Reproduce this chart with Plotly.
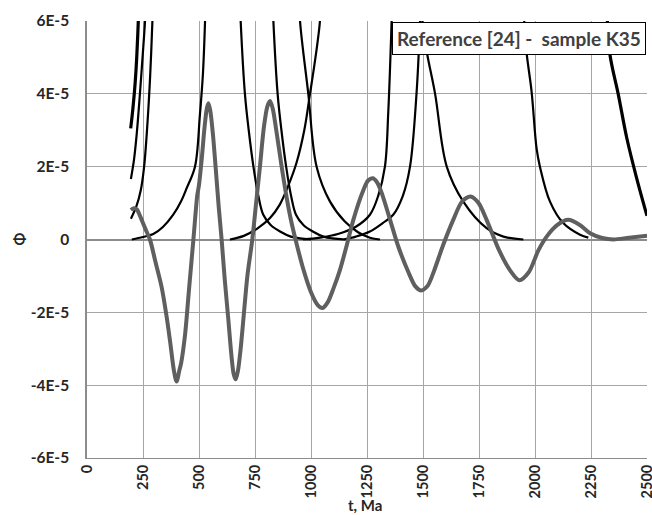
import plotly.graph_objects as go

SCALE = 1e-5

# ---- data (values in units of 1E-5) ----
phi_t = [196, 210, 222, 240, 260, 281, 305, 333, 355, 371, 388, 400, 412, 420, 438, 455, 475,
         492, 500, 512, 525, 535, 542, 550, 562, 574, 588, 601, 615, 631, 645, 655, 664, 674,
         686, 698, 716, 738, 755, 772, 790, 805, 817, 829, 845, 869, 890, 910, 935, 965, 1000,
         1030, 1052, 1075, 1100, 1129, 1160, 1189, 1230, 1255, 1276, 1297, 1320, 1353, 1390,
         1435, 1465, 1492, 1520, 1550, 1590, 1635, 1675, 1712, 1748, 1784, 1840, 1888, 1930,
         1972, 2015, 2052, 2100, 2148, 2200, 2246, 2300, 2350, 2420, 2500]
phi_v = [0.81, 0.86, 0.83, 0.6, 0.3, 0.0, -0.6, -1.3, -2.1, -2.8, -3.6, -3.9, -3.6, -3.4, -2.6,
         -1.4, 0.0, 1.2, 1.5, 2.2, 3.1, 3.6, 3.74, 3.55, 2.9, 2.0, 0.9, 0.0, -1.1, -2.2, -3.2,
         -3.7, -3.84, -3.6, -3.0, -2.2, -1.0, 0.0, 1.0, 2.0, 3.1, 3.65, 3.8, 3.6, 3.0, 2.0, 1.2,
         0.55, -0.1, -0.8, -1.45, -1.8, -1.88, -1.72, -1.35, -0.84, -0.15, 0.54, 1.3, 1.62, 1.68,
         1.55, 1.2, 0.54, -0.2, -0.9, -1.28, -1.4, -1.28, -0.85, -0.15, 0.54, 1.05, 1.18, 1.0,
         0.54, -0.3, -0.84, -1.12, -0.9, -0.3, 0.08, 0.4, 0.54, 0.4, 0.17, 0.04, 0.0, 0.05, 0.1]

c1_t = [195, 205, 215, 222, 229, 234]
c1_v = [3.05, 3.6, 4.3, 5.0, 6.0, 7.0]

c2_t = [196, 210, 222, 235, 248, 259, 266]
c2_v = [1.66, 2.2, 2.9, 3.9, 5.0, 6.0, 7.0]

c3_t = [196, 220, 240, 255, 270, 282, 292, 298]
c3_v = [0.57, 0.9, 1.35, 2.0, 3.2, 4.5, 6.0, 7.0]

c4_t = [200, 250, 296, 340, 385, 420, 445, 482, 504, 518, 527, 532]
c4_v = [0.0, 0.07, 0.15, 0.35, 0.68, 1.05, 1.41, 2.0, 3.42, 4.6, 6.0, 7.0]

cE_t = [680, 686, 705, 722, 743, 765, 787, 820, 862, 910, 951, 1000]
cE_v = [7.0, 6.0, 4.0, 3.0, 2.0, 1.2, 0.68, 0.4, 0.22, 0.08, 0.03, 0.0]

cF_t = [826, 832, 851, 868, 889, 911, 933, 966, 1008, 1056, 1097, 1150]
cF_v = [7.0, 6.0, 4.0, 3.0, 2.0, 1.2, 0.68, 0.4, 0.22, 0.08, 0.03, 0.0]

cG_t = [638, 700, 760, 817, 860, 900, 935, 970, 995, 1020, 1040, 1046]
cG_v = [0.0, 0.1, 0.3, 0.59, 0.95, 1.5, 2.1, 3.0, 3.98, 5.0, 6.0, 7.0]

cH_t = [945, 951, 988, 1025, 1085, 1150, 1210, 1263, 1308]
cH_v = [7.0, 6.0, 4.0, 2.0, 1.04, 0.5, 0.2, 0.05, 0.0]

cI_t = [965, 1040, 1120, 1200, 1263, 1300, 1330, 1345, 1360, 1365]
cI_v = [0.0, 0.05, 0.15, 0.35, 0.68, 1.2, 2.0, 3.5, 6.0, 7.0]

cJ_t = [1146, 1200, 1263, 1320, 1367, 1410, 1442, 1471, 1487, 1492]
cJ_v = [0.0, 0.08, 0.22, 0.45, 0.68, 1.2, 2.0, 4.0, 6.0, 7.0]

cK_t = [1490, 1497, 1517, 1554, 1606, 1680, 1784, 1859, 1948]
cK_v = [7.0, 6.0, 5.15, 4.0, 2.0, 1.04, 0.31, 0.08, 0.0]

cL_t = [1945, 1952, 1962, 1985, 2007, 2022, 2067, 2126, 2201, 2238]
cL_v = [7.0, 6.0, 5.15, 4.05, 2.5, 2.0, 1.04, 0.45, 0.13, 0.05]

cM_t = [2316, 2323, 2335, 2372, 2410, 2454, 2500]
cM_v = [7.0, 6.0, 5.06, 3.98, 2.78, 1.68, 0.65]

x_ticks = [0, 250, 500, 750, 1000, 1250, 1500, 1750, 2000, 2250, 2500]
y_ticks = [-6, -4, -2, 0, 2, 4, 6]
y_tick_text = ["-6E-5", "-4E-5", "-2E-5", "0", "2E-5", "4E-5", "6E-5"]

FONT = "Lato"
TXT = "#262626"

fig = go.Figure()

black_curves = [
    (c1_t, c1_v, 3.2), (c2_t, c2_v, 2.2), (c3_t, c3_v, 2.2), (c4_t, c4_v, 2.2),
    (cE_t, cE_v, 2.2), (cF_t, cF_v, 2.2), (cG_t, cG_v, 2.2), (cH_t, cH_v, 2.2),
    (cI_t, cI_v, 2.2), (cJ_t, cJ_v, 2.2), (cK_t, cK_v, 2.2), (cL_t, cL_v, 2.2),
    (cM_t, cM_v, 3.2),
]
for t, v, w in black_curves:
    fig.add_trace(go.Scatter(x=t, y=[a * SCALE for a in v], mode="lines",
                             line=dict(color="#000000", width=w, shape="spline", smoothing=1.0),
                             showlegend=False, hoverinfo="skip"))

fig.add_trace(go.Scatter(x=phi_t, y=[a * SCALE for a in phi_v], mode="lines",
                         line=dict(color="#5f5f5f", width=4, shape="spline", smoothing=0.8),
                         showlegend=False, hoverinfo="skip"))

fig.update_layout(
    width=652, height=515,
    margin=dict(l=87, r=5, t=21, b=57, autoexpand=False),
    paper_bgcolor="white", plot_bgcolor="white",
    font=dict(family=FONT, size=15, color=TXT),
    xaxis=dict(range=[0, 2500], tickvals=x_ticks, ticktext=[str(v) for v in x_ticks],
               tickangle=-90, showgrid=True, gridcolor="#a6a6a6", gridwidth=1,
               showline=True, linecolor="#8c8c8c", linewidth=1, zeroline=False,
               ticks="", ticklabeloverflow="allow", automargin=False,
               tickfont=dict(family=FONT, size=14.5, color=TXT, weight="bold")),
    yaxis=dict(range=[-6 * SCALE, 6 * SCALE], tickvals=[v * SCALE for v in y_ticks],
               ticktext=y_tick_text, showgrid=True, gridcolor="#a6a6a6", gridwidth=1,
               showline=True, linecolor="#8c8c8c", linewidth=1.5,
               zeroline=True, zerolinecolor="#8c8c8c", zerolinewidth=2,
               ticks="", ticklabelstandoff=13, automargin=False,
               tickfont=dict(family=FONT, size=15.5, color=TXT, weight="bold")),
    annotations=[
        dict(text="<b>Reference [24] -  sample K35</b>", xref="paper", yref="paper",
             x=0.998, y=0.998, xanchor="right", yanchor="top", showarrow=False,
             font=dict(family=FONT, size=19, color="#404040"),
             bgcolor="white", bordercolor="#000000", borderwidth=1, borderpad=4),
        dict(text="<b>t, Ma</b>", xref="paper", yref="paper", x=0.497, y=-0.108,
             xanchor="center", yanchor="middle", showarrow=False,
             font=dict(family=FONT, size=15, color=TXT)),
        dict(text="<b>Φ</b>", xref="paper", yref="paper", x=-0.123, y=0.5,
             xanchor="center", yanchor="middle", showarrow=False, textangle=-90,
             font=dict(family=FONT, size=15, color=TXT)),
    ],
)

# remove the page's default 8px body margin so the 652x515 figure fills the window exactly
fig.write_html("out.html", config={"displayModeBar": False},
               post_script="document.body.style.margin='0';document.body.style.overflow='hidden';")
